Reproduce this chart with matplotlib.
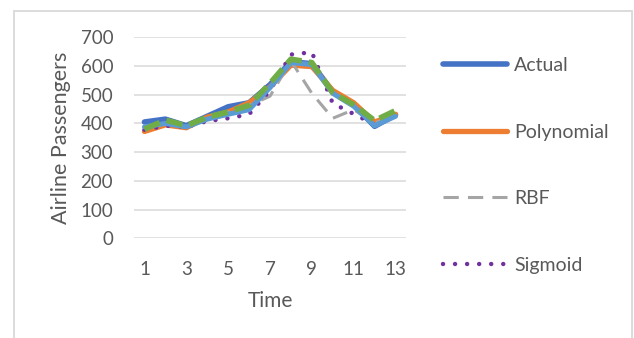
import matplotlib
matplotlib.use("Agg")
import matplotlib.pyplot as plt
from matplotlib.patches import Rectangle
from matplotlib.lines import Line2D

# ---- data ----
time = list(range(1, 14))
actual = [405, 415, 392, 425, 458, 472, 535, 615, 608, 510, 465, 390, 430]
actual_light = [388, 400, 388, 415, 432, 448, 525, 612, 605, 505, 460, 392, 425]
polynomial = [372, 395, 385, 422, 440, 472, 527, 603, 598, 515, 472, 405, 432]
rbf = [380, 400, 390, 420, 440, 462, 495, 618, 505, 418, 448, 402, 428]
sigmoid = [378, 392, 388, 408, 418, 432, 515, 640, 648, 470, 433, 396, 420]
green_fit = [380, 412, 392, 422, 440, 463, 540, 624, 612, 507, 465, 410, 445]
y_ticks = [0, 100, 200, 300, 400, 500, 600, 700]
x_ticks = [1, 3, 5, 7, 9, 11, 13]

plt.rcParams['font.family'] = ['Lato', 'DejaVu Sans']
TXT = '#595959'

fig = plt.figure(figsize=(6.34, 3.38), dpi=100)
ax = fig.add_axes([134/634, 1-238.3/338, 272/634, 201/338])

ax.plot(time, actual, color='#4472C4', lw=4.0, solid_capstyle='round', solid_joinstyle='round', zorder=3)
ax.plot(time, polynomial, color='#ED7D31', lw=3.8, solid_capstyle='round', solid_joinstyle='round', zorder=4)
ax.plot(time, rbf, color='#A5A5A5', lw=2.2, linestyle=(0, (5, 3)), zorder=5)
ax.plot(time, sigmoid, color='#7030A0', lw=3.2, linestyle=(0, (0.01, 2.7)), dash_capstyle='round', zorder=6)
ax.plot(time, actual_light, color='#5B9BD5', lw=3.6, solid_capstyle='round', solid_joinstyle='round', zorder=7)
ax.plot(time, green_fit, color='#70AD47', lw=4.0, linestyle=(0, (3, 1.3)), zorder=8)

ax.set_xlim(0.5, 13.5)
ax.set_ylim(0, 700)
ax.set_yticks(y_ticks)
ax.set_xticks(x_ticks)
ax.grid(axis='y', color='#D9D9D9', lw=1.1, zorder=0)
ax.set_axisbelow(True)
for s in ax.spines.values():
    s.set_visible(False)
ax.tick_params(length=0, labelsize=13.5, labelcolor=TXT)
ax.tick_params(axis='y', pad=15)
ax.tick_params(axis='x', pad=16)
ax.set_xlabel('Time', fontsize=15, color=TXT, labelpad=10)
ax.set_ylabel('Airline Passengers', fontsize=15.5, color=TXT, labelpad=7)

handles = [
    Line2D([], [], color='#4472C4', lw=4.0, solid_capstyle='round'),
    Line2D([], [], color='#ED7D31', lw=3.8, solid_capstyle='round'),
    Line2D([], [], color='#A5A5A5', lw=2.2, linestyle=(0, (5, 3))),
    Line2D([], [], color='#7030A0', lw=3.2, linestyle=(0, (0.01, 2.7)), dash_capstyle='round'),
]
labels = ['Actual', 'Polynomial', 'RBF', 'Sigmoid']
leg = fig.legend(handles, labels, loc='upper left', bbox_to_anchor=(443/634, 1-57/338),
                 frameon=False, fontsize=14, handlelength=3.3, handletextpad=0.35,
                 labelspacing=2.55, borderpad=0, borderaxespad=0)
for t in leg.get_texts():
    t.set_color(TXT)

fig.patches.append(Rectangle((14/634, -0.1), 618/634, 1.1 - 11/338,
                             transform=fig.transFigure, fill=False, ec='#D9D9D9', lw=1.3))

fig.savefig('out.png', dpi=100)
